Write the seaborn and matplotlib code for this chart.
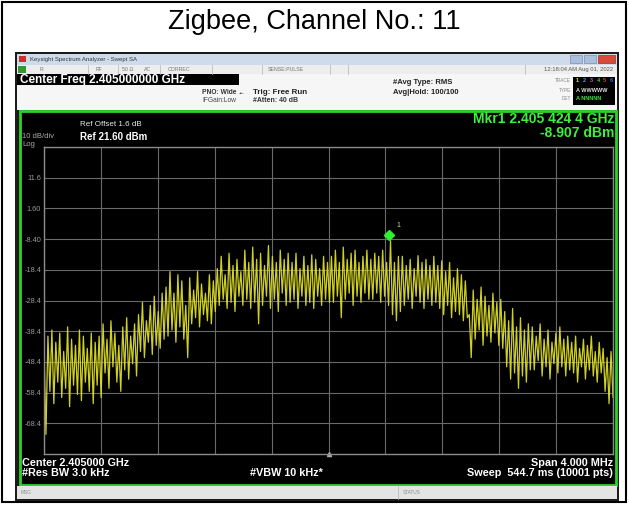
import numpy as np
import seaborn as sns
import matplotlib.pyplot as plt
from matplotlib.patches import Rectangle

sns.set_theme(style="white")
plt.rcParams['font.family'] = ['Liberation Sans', 'DejaVu Sans']

# trace: alternating peak / trough levels (dBm) across the span
trace_top = [
    -44, -40, -38, -42, -39, -45, -37, -41, -43, -38, -40, -44, -39, -42, -40,
    -36, -41, -35, -39, -43, -37, -34, -40, -36,
    -33, -29, -35, -30, -27, -32, -26,
    -24, -19, -26, -20, -22,
    -30,
    -21, -25, -19, -23, -26, -20, -22,
    -18, -14, -20, -13, -17, -15, -19, -12, -16,
    -11, -15, -13, -17, -10.5, -14, -16, -12, -15, -13,
    -16, -13, -18, -14, -17, -13.5, -15, -18, -14, -16,
    -14, -12, -16, -11, -15, -13, -12, -16, -14, -12,
    -15, -13, -14, -12, -16,
    -8.9, -16, -14,
    -14, -17, -15, -18, -13.8, -16, -15, -17, -14,
    -17, -15.5, -19, -16, -21, -18, -20, -22,
    -33,
    -25, -28, -24, -27, -30, -26, -29, -28,
    -32, -35, -31, -37, -34, -38, -36,
    -37, -40, -36, -41, -38, -42, -39, -37, -41, -40,
    -42, -40, -44, -41, -43, -40, -45, -42,
    -44, -47, -45,
]
trace_bot = [
    -72, -58, -62, -55, -60, -57, -63, -56, -59, -61, -55, -58, -62, -56, -60,
    -52, -57, -50, -55, -58, -51, -54, -49, -53,
    -45, -47, -42, -46, -43, -44, -41,
    -40, -38, -42, -37, -41,
    -47,
    -36, -34, -37, -33, -35, -36, -32,
    -30, -28, -31, -29, -32, -27, -30, -28, -31,
    -29, -36, -30, -27, -31, -28, -32, -26, -30, -29,
    -28, -31, -27, -30, -29, -31, -27, -30, -28, -29,
    -29, -27, -34, -28, -26, -30, -27, -29, -26, -28,
    -28, -26, -29, -27, -30,
    -33, -35, -32,
    -30, -28, -31, -27, -29, -31, -28, -30, -29,
    -31, -33, -30, -34, -32, -33, -35, -34,
    -47,
    -41, -38, -43, -40, -42, -39, -43, -44,
    -50, -54, -52, -57, -53, -55, -51,
    -51, -48, -53, -50, -54, -49, -52, -50, -53, -51,
    -52, -55, -50, -54, -51, -53, -55, -52,
    -58, -62, -60,
]

ref_level = 21.6
db_per_div = 10
span_mhz = 4.0
ytick_labels = ["11.6", "1.60", "-8.40", "-18.4", "-28.4", "-38.4", "-48.4", "-58.4", "-68.4"]
mkr_offset_mhz = 0.4244
mkr_level = -8.907

level = np.column_stack([trace_top, trace_bot]).ravel()
freq = np.linspace(-span_mhz / 2, span_mhz / 2, len(level))

W, H = 629, 505
fig = plt.figure(figsize=(W / 100, H / 100), dpi=100)
fig.patch.set_facecolor("white")

# background canvas in pixel units for the screenshot chrome
bg = fig.add_axes([0, 0, 1, 1])
bg.set_xlim(0, W)
bg.set_ylim(H, 0)
bg.axis("off")

def box(x, y, w, h, **kw):
    bg.add_patch(Rectangle((x, y), w, h, **kw))

def txt(x, y, s, **kw):
    kw.setdefault("va", "center")
    bg.text(x, y, s, **kw)

box(2, 2, 624, 500, fill=False, edgecolor="black", linewidth=1.5)
txt(314, 22, "Zigbee, Channel No.: 11", ha="center", fontsize=19.5, color="black")

# analyzer window
box(15, 52, 604, 449, facecolor="#1c1c1c", edgecolor="none")
box(17, 54, 600, 11, facecolor="#cddbea", edgecolor="none")
box(19, 56, 7, 6, facecolor="#c83030", edgecolor="none")
txt(30, 59.5, "Keysight Spectrum Analyzer - Swept SA", fontsize=4.3, color="#333333")
box(570, 55, 12, 8, facecolor="#aac0da", edgecolor="#7890b0", linewidth=0.5)
box(584, 55, 12, 8, facecolor="#aac0da", edgecolor="#7890b0", linewidth=0.5)
box(598, 55, 17, 8, facecolor="#d84a3a", edgecolor="#a03020", linewidth=0.5)

box(17, 65, 600, 9, facecolor="#ededed", edgecolor="none")
box(18, 66, 8, 7, facecolor="#2f9a2f", edgecolor="none")
for xd in [88, 118, 160, 212, 262, 330, 348, 525]:
    bg.plot([xd, xd], [65, 74], color="#bbbbbb", linewidth=0.6)
for xs, s in [(40, "R"), (96, "RF"), (122, "50 \u03a9"), (144, "AC"), (168, "CORREC"), (268, "SENSE:PULSE")]:
    txt(xs, 69.5, s, fontsize=3.8, color="#777777")
txt(613, 69.5, "12:18:04 AM Aug 01, 2022", ha="right", fontsize=4.2, color="#555555")

box(17, 74, 600, 36, facecolor="#f6f6f6", edgecolor="none")
box(17, 74, 222, 11, facecolor="black", edgecolor="none")
txt(20, 79.5, "Center Freq 2.405000000 GHz", fontsize=8.5, fontweight="bold", color="white")
txt(202, 93, "PNO: Wide", fontsize=4.8, fontweight="bold", color="#333333")
txt(202, 100, "IFGain:Low", fontsize=4.8, color="#444444")
txt(239, 93, "-\u2022-", fontsize=4, color="#333333")
txt(253, 92, "Trig: Free Run", fontsize=5.8, fontweight="bold", color="#222222")
txt(253, 100.5, "#Atten: 40 dB", fontsize=5, fontweight="bold", color="#333333")
txt(393, 83, "#Avg Type: RMS", fontsize=5.5, fontweight="bold", color="#222222")
txt(393, 92, "Avg|Hold: 100/100", fontsize=5.5, fontweight="bold", color="#222222")
for yy, s in [(81, "TRACE"), (90, "TYPE"), (99, "DET")]:
    txt(571, yy, s, ha="right", fontsize=3.4, color="#888888")
box(573, 77, 42, 28, facecolor="black", edgecolor="none")
for k, c in enumerate(["#e8e820", "#30b0e8", "#e040e0", "#30d030", "#e03030", "#4060e8"]):
    txt(576 + k * 6.8, 81, str(k + 1), fontsize=4, fontweight="bold", color=c)
txt(576, 90, "A WWWWW", fontsize=4, fontweight="bold", color="#dddddd")
txt(576, 99, "A NNNNN", fontsize=4, fontweight="bold", color="#40e040")

# display area
box(20, 111, 596, 374, facecolor="black", edgecolor="#2fd02f", linewidth=2)
txt(80, 125, "Ref Offset 1.6 dB", fontsize=5.8, color="#e8e8e8")
txt(80, 137, "Ref 21.60 dBm", fontsize=7, fontweight="bold", color="white")
txt(22, 137, "10 dB/div", fontsize=5.5, color="#aaaaaa")
txt(22, 144.5, "Log", fontsize=5.5, color="#aaaaaa")
txt(614, 119, "Mkr1 2.405 424 4 GHz", ha="right", fontsize=10, fontweight="bold", color="#3cf03c")
txt(614, 133, f"{mkr_level:.3f} dBm", ha="right", fontsize=10, fontweight="bold", color="#3cf03c")
txt(22, 463, "Center 2.405000 GHz", fontsize=7.8, fontweight="bold", color="white")
txt(22, 473, "#Res BW 3.0 kHz", fontsize=7.8, fontweight="bold", color="white")
txt(250, 473, "#VBW 10 kHz*", fontsize=7.8, fontweight="bold", color="white")
txt(613, 463, "Span 4.000 MHz", ha="right", fontsize=7.8, fontweight="bold", color="white")
txt(613, 473, "Sweep  544.7 ms (10001 pts)", ha="right", fontsize=7.8, fontweight="bold", color="white")

box(17, 486, 600, 13, facecolor="#e4e4e4", edgecolor="none")
bg.plot([398, 398], [486, 499], color="#bbbbbb", linewidth=0.6)
txt(21, 492.5, "MSG", fontsize=3.4, color="#888888")
txt(403, 492.5, "STATUS", fontsize=3.4, color="#888888")

# trace graticule
x0, x1, y0, y1 = 44, 613, 147, 454
ax = fig.add_axes([x0 / W, 1 - y1 / H, (x1 - x0) / W, (y1 - y0) / H])
ax.set_facecolor("black")
sns.lineplot(x=freq, y=level, ax=ax, color="#dcdc26", linewidth=0.9, alpha=0.95)
ax.plot(mkr_offset_mhz, mkr_level + 1.8, marker="D", markersize=5.5, color="#30ee30",
        markeredgecolor="#30ee30", linestyle="none")
ax.text(mkr_offset_mhz + 0.05, mkr_level + 4.5, "1", fontsize=5, color="#e0e070")
ax.plot(0, ref_level - 10 * db_per_div, marker="^", markersize=3, color="#aaaaaa", clip_on=False)

ax.set_xlim(-span_mhz / 2, span_mhz / 2)
ax.set_ylim(ref_level - 10 * db_per_div, ref_level)
ax.set_xticks(np.linspace(-span_mhz / 2, span_mhz / 2, 11))
ax.set_xticklabels([])
ax.set_yticks([ref_level - db_per_div * (k + 1) for k in range(len(ytick_labels))])
ax.set_yticklabels(ytick_labels)
ax.tick_params(axis="both", length=0, pad=2)
ax.tick_params(axis="y", labelsize=5.3, labelcolor="#999999")
ax.grid(True, color="#6a6a6a", linewidth=0.8)
for sp in ax.spines.values():
    sp.set_color("#8c8c8c")
    sp.set_linewidth(1)
ax.set_xlabel("")
ax.set_ylabel("")

fig.savefig("out.png", dpi=100)
